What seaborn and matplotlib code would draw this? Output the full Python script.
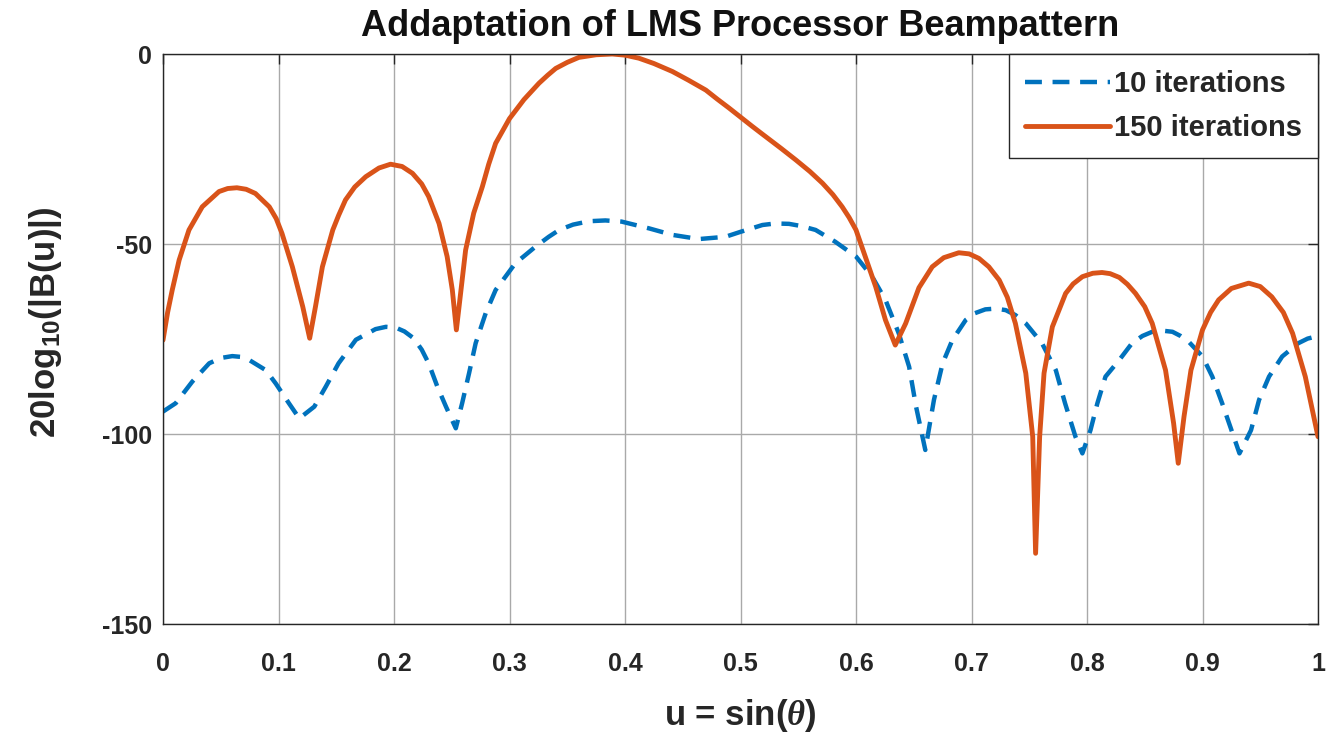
import numpy as np
import pandas as pd
import matplotlib
matplotlib.use("Agg")
import matplotlib.pyplot as plt
import seaborn as sns

# ---------------- data ----------------
u_150 = [0.000, 0.004, 0.008, 0.014, 0.0225, 0.034, 0.0485, 0.056, 0.064, 0.072,
         0.080, 0.092, 0.098, 0.103, 0.112, 0.121, 0.127, 0.132, 0.138, 0.147,
         0.152, 0.158, 0.166, 0.1755, 0.187, 0.197, 0.207, 0.216, 0.224, 0.230,
         0.239, 0.246, 0.2505, 0.254, 0.258, 0.262, 0.269, 0.2765, 0.282, 0.288,
         0.300, 0.3125, 0.3255, 0.333, 0.340, 0.350, 0.360, 0.375, 0.389, 0.400,
         0.412, 0.425, 0.441, 0.455, 0.470, 0.480, 0.490, 0.500, 0.510, 0.519,
         0.535, 0.548, 0.560, 0.571, 0.580, 0.588, 0.594, 0.600, 0.608, 0.617,
         0.6255, 0.634, 0.643, 0.6545, 0.666, 0.676, 0.689, 0.698, 0.7065, 0.715,
         0.724, 0.731, 0.738, 0.747, 0.753, 0.7555, 0.759, 0.7628, 0.770, 0.7815,
         0.788, 0.796, 0.805, 0.813, 0.820, 0.828, 0.835, 0.842, 0.850, 0.8565,
         0.868, 0.875, 0.879, 0.884, 0.890, 0.900, 0.907, 0.914, 0.925, 0.940,
         0.950, 0.960, 0.970, 0.978, 0.989, 1.000]
db_150 = [-75.3, -68.0, -62.1, -54.2, -46.3, -40.2, -36.2, -35.4, -35.2, -35.6,
          -36.7, -40.2, -43.3, -47.2, -56.0, -66.5, -74.8, -66.5, -56.0, -46.3,
          -42.5, -38.4, -35.0, -32.3, -30.0, -29.0, -29.6, -31.4, -34.2, -37.5,
          -44.6, -53.3, -62.1, -72.6, -62.1, -51.6, -41.9, -34.9, -29.0, -23.5,
          -17.0, -12.0, -7.7, -5.6, -3.8, -2.2, -0.9, -0.2, 0.0, -0.3,
          -1.1, -2.5, -4.6, -6.9, -9.5, -11.9, -14.2, -16.6, -19.0, -21.1,
          -24.8, -27.9, -30.9, -34.0, -37.0, -40.2, -43.0, -46.3, -53.3, -61.2,
          -70.0, -76.6, -70.9, -61.5, -56.0, -53.6, -52.3, -52.6, -53.8, -56.0,
          -59.5, -64.0, -70.9, -84.0, -100.7, -131.4, -100.7, -84.0, -71.8, -63.0,
          -60.5, -58.6, -57.7, -57.5, -57.8, -58.8, -60.6, -63.0, -66.5, -70.9,
          -83.2, -97.2, -107.7, -95.4, -83.2, -72.6, -68.0, -64.7, -61.7, -60.3,
          -61.2, -63.9, -68.0, -73.5, -84.9, -100.7]

u_10 = [0.000, 0.011, 0.0254, 0.040, 0.050, 0.060, 0.067, 0.0745, 0.089, 0.0976,
        0.109, 0.118, 0.131, 0.141, 0.152, 0.167, 0.184, 0.193, 0.2015, 0.209,
        0.217, 0.224, 0.230, 0.2375, 0.245, 0.2535, 0.259, 0.265, 0.2707, 0.2794,
        0.288, 0.305, 0.3225, 0.334, 0.343, 0.355, 0.369, 0.383, 0.397, 0.421,
        0.441, 0.464, 0.487, 0.500, 0.519, 0.530, 0.542, 0.553, 0.565, 0.582,
        0.600, 0.614, 0.6255, 0.637, 0.646, 0.652, 0.660, 0.6675, 0.675, 0.6834,
        0.695, 0.703, 0.712, 0.721, 0.7296, 0.738, 0.747, 0.761, 0.773, 0.781,
        0.790, 0.796, 0.803, 0.809, 0.816, 0.828, 0.839, 0.848, 0.8565, 0.865,
        0.874, 0.881, 0.888, 0.900, 0.9085, 0.917, 0.926, 0.932, 0.942, 0.949,
        0.9576, 0.969, 0.983, 0.991, 1.000]
db_10 = [-94.1, -91.9, -86.2, -81.4, -80.0, -79.5, -79.7, -80.5, -83.2, -86.7,
         -91.9, -95.9, -92.8, -87.5, -81.4, -75.2, -72.4, -71.8, -72.0, -73.0,
         -74.8, -77.8, -81.4, -87.5, -92.8, -98.5, -91.9, -84.0, -76.1, -68.2,
         -62.1, -55.1, -50.7, -48.1, -46.3, -44.9, -44.0, -43.8, -44.1, -45.9,
         -47.6, -48.7, -48.1, -46.8, -45.0, -44.6, -44.7, -45.3, -46.3, -49.4,
         -53.3, -58.6, -64.7, -73.5, -82.3, -92.8, -104.2, -91.0, -81.4, -75.3,
         -70.0, -68.2, -67.2, -67.0, -67.4, -68.7, -70.9, -76.1, -83.2, -91.9,
         -100.7, -105.1, -99.0, -91.9, -84.9, -80.5, -76.1, -74.2, -73.1, -72.8,
         -73.1, -74.2, -75.7, -79.6, -84.9, -91.9, -99.8, -105.1, -99.0, -91.0,
         -84.9, -79.6, -76.1, -74.9, -74.2]

series_names = ["10 iterations", "150 iterations"]
x_ticks = [0, 0.1, 0.2, 0.3, 0.4, 0.5, 0.6, 0.7, 0.8, 0.9, 1]
x_tick_labels = ["0", "0.1", "0.2", "0.3", "0.4", "0.5", "0.6", "0.7", "0.8", "0.9", "1"]
y_ticks = [-150, -100, -50, 0]
y_tick_labels = ["-150", "-100", "-50", "0"]

# ---------------- style ----------------
sns.set_style("white")
plt.rcParams["font.family"] = ["Liberation Sans", "DejaVu Sans"]
plt.rcParams["font.weight"] = "bold"
plt.rcParams["axes.unicode_minus"] = False
plt.rcParams["mathtext.fontset"] = "custom"
plt.rcParams["mathtext.rm"] = "Liberation Sans:bold"
plt.rcParams["mathtext.bf"] = "Liberation Sans:bold"
plt.rcParams["mathtext.it"] = "Liberation Serif:italic"

BLUE = "#0072BD"
ORANGE = "#D95319"
INK = "#262626"

fig = plt.figure(figsize=(13.4, 7.35), dpi=100)
ax = fig.add_axes([163 / 1340, 1 - 624 / 735, 1155 / 1340, 570 / 735])

ax.grid(True, color="#a9a9a9", linewidth=1.0)
ax.set_axisbelow(True)

sns.lineplot(x=u_10, y=db_10, ax=ax, color=BLUE, linewidth=3.2,
             linestyle=(0, (3.8, 2.4)), label=series_names[0],
             estimator=None, sort=False)
sns.lineplot(x=u_150, y=db_150, ax=ax, color=ORANGE, linewidth=3.5,
             linestyle="-", label=series_names[1],
             estimator=None, sort=False)

ax.set_xlim(0, 1)
ax.set_ylim(-150, 0)
ax.set_xticks(x_ticks)
ax.set_xticklabels(x_tick_labels)
ax.set_yticks(y_ticks)
ax.set_yticklabels(y_tick_labels)
ax.tick_params(direction="in", length=7, width=1, top=True, right=True,
               labelsize=18, colors=INK)
ax.tick_params(axis="x", pad=20)
ax.tick_params(axis="y", pad=8)
for lbl in ax.get_xticklabels() + ax.get_yticklabels():
    lbl.set_fontweight("bold")
    lbl.set_color(INK)

for sp in ax.spines.values():
    sp.set_color(INK)
    sp.set_linewidth(1.0)

ax.set_xlabel(r"u = sin($\theta$)", fontsize=25, fontweight="bold", color=INK)
ax.xaxis.set_label_coords(0.5, -0.16)
ax.xaxis.label.set_va("center")
ax.set_ylabel(r"20log$_{\mathbf{10}}$(|B(u)|)", fontsize=25, fontweight="bold",
              color=INK)
ax.yaxis.set_label_coords(-0.102, 0.53)
ax.yaxis.label.set_va("center")
ax.set_title("Addaptation of LMS Processor Beampattern", fontsize=26,
             fontweight="bold", pad=13, color="#111111")

leg = ax.legend(loc="upper right", borderaxespad=0, frameon=True,
                fancybox=False, edgecolor=INK, framealpha=1,
                fontsize=21, handlelength=2.9, handletextpad=0.15,
                borderpad=0.55, labelspacing=0.55)
leg.get_frame().set_linewidth(1.0)
for t in leg.get_texts():
    t.set_fontweight("bold")

fig.savefig("out.png", dpi=100)
